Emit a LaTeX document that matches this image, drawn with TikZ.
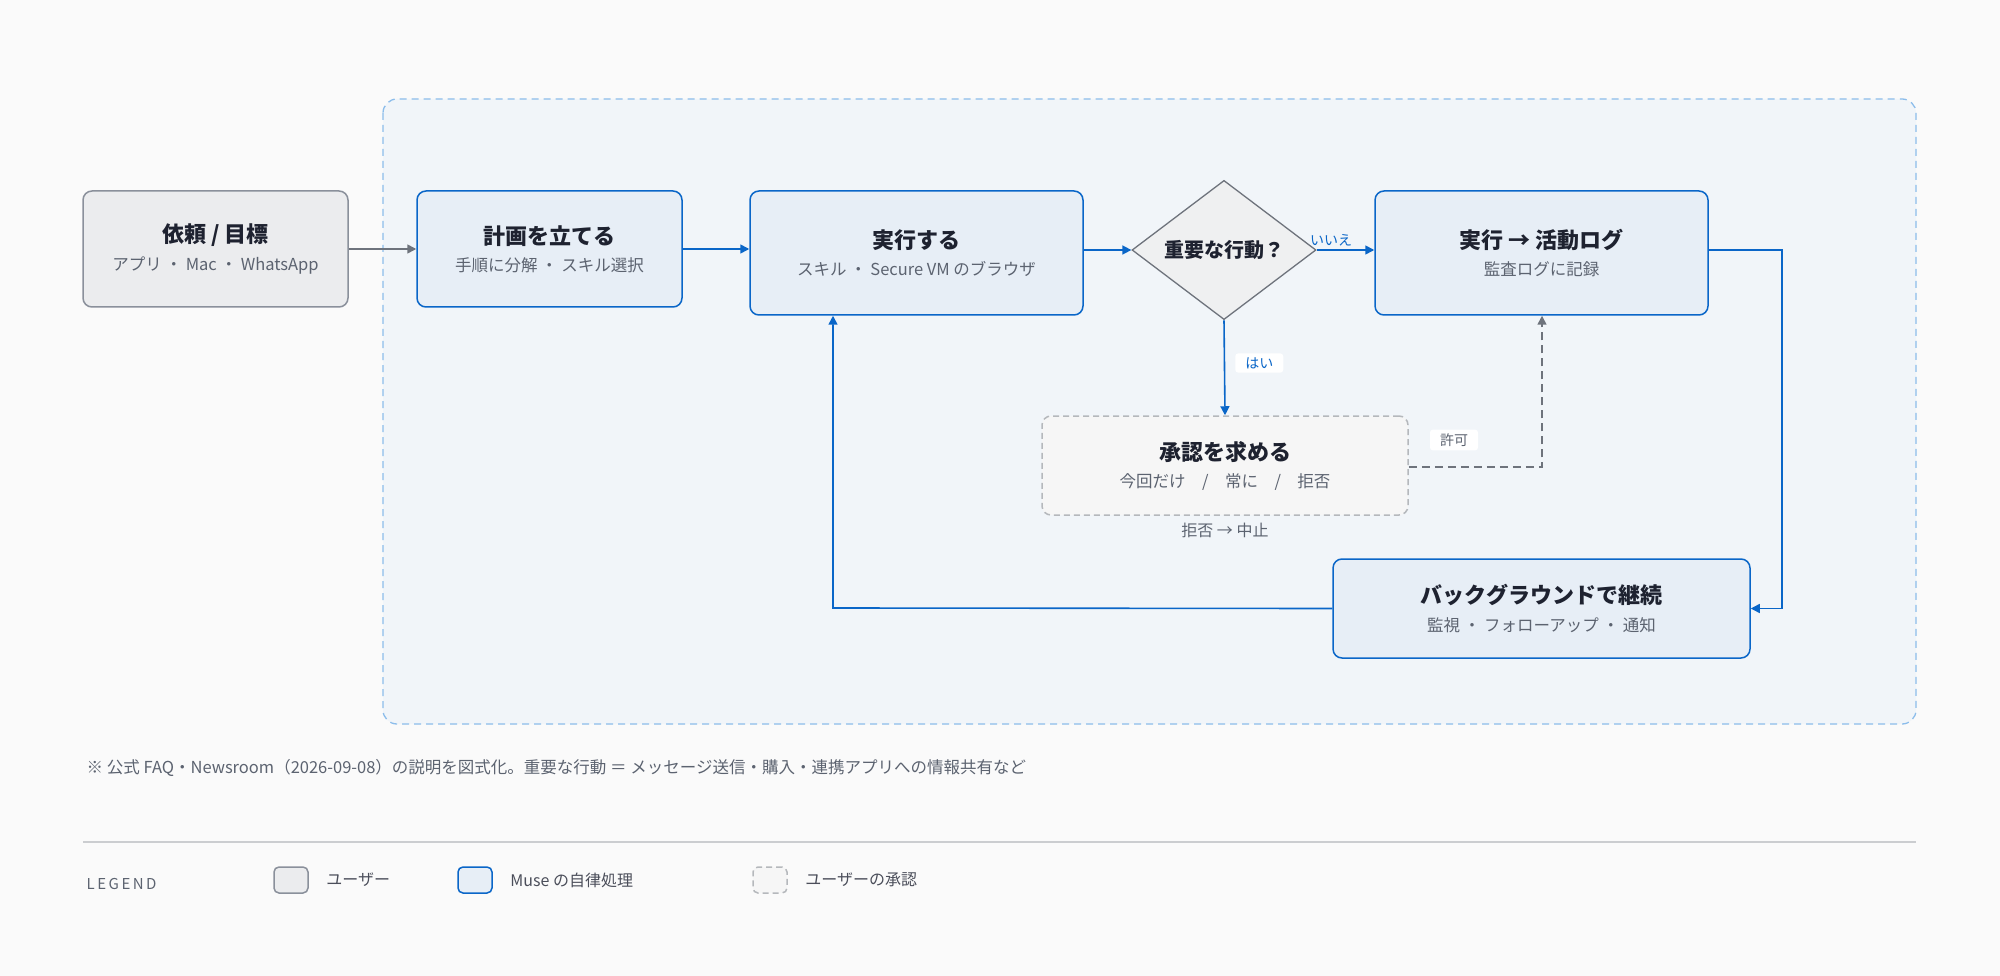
\documentclass[tikz,border=0pt]{standalone}
\usepackage{fontspec}
\setmainfont{Noto Sans CJK JP}
\usetikzlibrary{arrows.meta,positioning,shapes.geometric}

\definecolor{bgpage}{HTML}{FAFAFA}
\definecolor{framefill}{HTML}{F1F5F9}
\definecolor{framedraw}{HTML}{8CBDEB}
\definecolor{museblue}{HTML}{0A66C8}
\definecolor{musefill}{HTML}{E7EEF6}
\definecolor{userfill}{HTML}{EBECEE}
\definecolor{userdraw}{HTML}{8A909B}
\definecolor{askfill}{HTML}{F6F6F6}
\definecolor{askdraw}{HTML}{B5B8BC}
\definecolor{titletext}{HTML}{1E2230}
\definecolor{subtext}{HTML}{5C6370}

\newcommand{\twoline}[2]{{\fontsize{22}{26}\selectfont\bfseries #1}\\[10pt]{\fontsize{16.5}{20}\selectfont\color{subtext}#2}}

\begin{document}
\begin{tikzpicture}[
	x = 1pt, y = -1pt,
	> = {Triangle[length=9pt, width=9pt]}, % arrow head style
	thick, % line style
	box/.style={rectangle, rounded corners=9pt, line width=1.5pt, align=center, text=titletext, inner sep=0pt},
	User/.style={box, draw=userdraw, fill=userfill},
	Muse/.style={box, draw=museblue, fill=musefill},
	Ask/.style={box, draw=askdraw, fill=askfill, dashed, dash pattern=on 6pt off 4pt},
	Flow/.style={->, museblue, line width=1.6pt},
	Tag/.style={fill=white, rounded corners=3pt, inner xsep=10pt, inner ysep=4pt, font=\fontsize{14}{16}\selectfont},
	]

	% Page and frame
	\fill[bgpage] (0,0) rectangle (2000,976);
	\draw[framedraw, fill=framefill, line width=1.3pt, dash pattern=on 7pt off 5pt, rounded corners=14pt] (383,99) rectangle (1916,724);

	% Nodes and their positions
	\node[User, minimum width=265pt, minimum height=116pt] (G) at (215.5,249) {\twoline{依頼 / 目標}{アプリ ・ Mac ・ WhatsApp}};
	\node[Muse, minimum width=265pt, minimum height=116pt] (P) at (549.5,249) {\twoline{計画を立てる}{手順に分解 ・ スキル選択}};
	\node[Muse, minimum width=333pt, minimum height=124pt] (E) at (916.5,253) {\twoline{実行する}{スキル ・ Secure VM のブラウザ}};
	\node[diamond, draw=userdraw!80!black, fill=userfill!80!white, line width=1.3pt, minimum width=184pt, minimum height=118pt, inner sep=0pt, text=titletext, font=\fontsize{20}{24}\selectfont\bfseries] (Q) at (1224,250) {重要な行動？};
	\node[Muse, minimum width=333pt, minimum height=124pt] (L) at (1541.5,253) {\twoline{実行 → 活動ログ}{監査ログに記録}};
	\node[Ask, minimum width=366pt, minimum height=99pt] (A) at (1225,465.5) {\twoline{承認を求める}{今回だけ　/　常に　/　拒否}};
	\node[Muse, minimum width=417pt, minimum height=99pt] (B) at (1541.5,608.5) {\twoline{バックグラウンドで継続}{監視 ・ フォローアップ ・ 通知}};
	\node[text=subtext, font=\fontsize{16}{20}\selectfont, below = 4pt of A] (Deny) {拒否 → 中止};

	% Paths connecting nodes
	\draw[->, userdraw!80!black, line width=1.6pt] (G) -- (P);
	\draw[Flow] (P) -- (P -| E.west);
	\draw[Flow] (E.east |- Q) -- (Q.west);
	\draw[Flow] (Q.east) -- node[above, pos=0.25, text=museblue, font=\fontsize{14}{16}\selectfont] {いいえ} (Q -| L.west);
	\draw[Flow] (Q.south) -- node[Tag, right=10pt, text=museblue, pos=0.45] {はい} (A.north);
	\coordinate (Turn) at (1542,467);
	\draw[->, userdraw!80!black, line width=1.6pt, dash pattern=on 8pt off 5pt] (A.east |- Turn) -- (Turn) -- (L.south -| Turn);
	\node[Tag, text=subtext] (Ok) at (1454,440) {許可};
	\coordinate (Side) at (1782,250);
	\draw[Flow] (L.east |- Side) -- (Side) -- (Side |- B) -- (B.east);
	\coordinate (Back) at (833,608);
	\draw[Flow] (B.west) -- (Back) -- (Back |- E.south);

	% Note and legend
	\node[anchor=west, text=subtext, font=\fontsize{16.5}{20}\selectfont] (Note) at (83,768) {※ 公式 FAQ・Newsroom（2026-09-08）の説明を図式化。重要な行動 ＝ メッセージ送信・購入・連携アプリへの情報共有など};
	\draw[askdraw!70!white, line width=1.3pt] (83,842) -- (1916,842);
	\node[anchor=west, text=subtext, font=\fontsize{15}{18}\selectfont] (Lg) at (83,884) {L\,E\,G\,E\,N\,D};
	\node[User, minimum width=34pt, minimum height=26pt, rounded corners=5pt] (S1) at (291,880) {};
	\node[anchor=west, text=titletext!80!white, font=\fontsize{16}{20}\selectfont, right = 14pt of S1] (T1) {ユーザー};
	\node[Muse, minimum width=34pt, minimum height=26pt, rounded corners=5pt] (S2) at (475,880) {};
	\node[anchor=west, text=titletext!80!white, font=\fontsize{16}{20}\selectfont, right = 14pt of S2] (T2) {Muse の自律処理};
	\node[Ask, minimum width=34pt, minimum height=26pt, rounded corners=5pt] (S3) at (770,880) {};
	\node[anchor=west, text=titletext!80!white, font=\fontsize{16}{20}\selectfont, right = 14pt of S3] (T3) {ユーザーの承認};

	\useasboundingbox (0,0) rectangle (2000,976);
\end{tikzpicture}
\end{document}
